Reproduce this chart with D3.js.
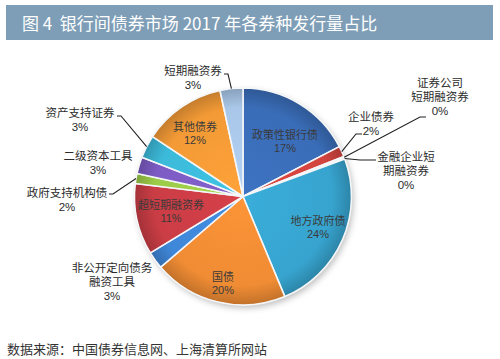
<!DOCTYPE html>
<html><head><meta charset="utf-8">
<script src="https://cdn.jsdelivr.net/npm/d3@7"></script>
<style>
html,body{margin:0;padding:0;background:#fff;}
svg{display:block;font-family:"Noto Sans CJK SC","Noto Sans",sans-serif;}
.lbl{font-family:"Liberation Sans","Noto Sans CJK SC",sans-serif;}
</style></head>
<body>
<svg id="c" width="500" height="359"></svg>
<script>
const title = "图 4\u00a0\u00a0银行间债券市场 2017 年各券种发行量占比";
const source = "数据来源：中国债券信息网、上海清算所网站";
const categories = ["政策性银行债","企业债券","证券公司短期融资券","金融企业短期融资券","地方政府债","国债","非公开定向债务融资工具","超短期融资券","政府支持机构债","二级资本工具","资产支持证券","其他债券","短期融资券"];
const values = [17.4,1.6,0.2,0.2,24.3,20.0,2.6,10.6,1.5,2.5,3.4,12.3,3.4];
const labelLines = [["政策性银行债"],["企业债券"],["证券公司","短期融资券"],["金融企业短","期融资券"],["地方政府债"],["国债"],["非公开定向债务","融资工具"],["超短期融资券"],["政府支持机构债"],["二级资本工具"],["资产支持证券"],["其他债券"],["短期融资券"]];
const colors = ["#3A6DB8","#D2443F","#9BBB59","#8FB8C8","#37A4CF","#F08C34","#3F87D8","#CB3D45","#9CCB48","#7D5CC4","#3CBAD9","#F39A36","#A9C7E8"];

// layout of labels (x center, y center of first line) and leader lines
const labelPos = [
  {x:285,y:135,inside:true},
  {x:371,y:117,end:[362,134],knee:[356,134]},
  {x:440,y:83,end:[426,117],knee:[420,117]},
  {x:406,y:157,end:[376,160],knee:[360,160]},
  {x:318,y:221,inside:true},
  {x:223,y:277,inside:true},
  {x:112,y:268},
  {x:171,y:205,inside:true},
  {x:67,y:193,end:[109,194],knee:[113,194]},
  {x:98,y:156},
  {x:80,y:113,end:[117,116],knee:[121,116]},
  {x:195,y:127,inside:true},
  {x:193,y:71,end:[224,74],knee:[228,74]}
];

const svg = d3.select("#c");
const W=500,H=359;
svg.append("rect").attr("width",W).attr("height",H).attr("fill","#fff");

// title bar
svg.append("rect").attr("x",6).attr("y",5).attr("width",487).attr("height",35).attr("fill","#7E9EB7");
svg.append("text").attr("x",22).attr("y",30).attr("fill","#fff").attr("font-size",17).text(title);

const cx=243, cy=196.5, R=108.5;
const defs = svg.append("defs");
const sh = defs.append("filter").attr("id","sh").attr("x","-20%").attr("y","-20%").attr("width","140%").attr("height","140%");
sh.append("feDropShadow").attr("dx",2).attr("dy",3).attr("stdDeviation",3).attr("flood-color","#000").attr("flood-opacity",0.25);

colors.forEach((c,i)=>{
  const g = defs.append("radialGradient").attr("id","g"+i).attr("gradientUnits","userSpaceOnUse")
    .attr("cx",0).attr("cy",0).attr("r",R);
  const base = d3.color(c);
  g.append("stop").attr("offset","0%").attr("stop-color",base.brighter(0.15));
  g.append("stop").attr("offset","82%").attr("stop-color",base);
  g.append("stop").attr("offset","93%").attr("stop-color",base.darker(0.35));
  g.append("stop").attr("offset","100%").attr("stop-color",base.darker(0.6));
});

const pie = d3.pie().sort(null).value(d=>d);
const arcs = pie(values);
const arc = d3.arc().innerRadius(0).outerRadius(R);
const gp = svg.append("g").attr("transform",`translate(${cx},${cy})`);
gp.append("circle").attr("r",R).attr("fill","#fff").attr("filter","url(#sh)");
gp.selectAll("path.s").data(arcs).join("path").attr("class","s")
  .attr("d",arc).attr("fill",(d,i)=>`url(#g${i})`)
  .attr("stroke","#f4f6f8").attr("stroke-width",1.6).attr("stroke-linejoin","round");

// leader lines
const lg = svg.append("g");
arcs.forEach((a,i)=>{
  const p = labelPos[i];
  if(!p.end) return;
  const m = (a.startAngle+a.endAngle)/2;
  const sx = cx + R*Math.sin(m), sy = cy - R*Math.cos(m);
  lg.append("polyline").attr("points",[[sx,sy],p.knee,p.end].map(q=>q.join(",")).join(" "))
    .attr("fill","none").attr("stroke","#222").attr("stroke-width",1.1);
});

// labels
const tg = svg.append("g").attr("class","lbl").attr("text-anchor","middle");
arcs.forEach((a,i)=>{
  const p = labelPos[i];
  const lines = labelLines[i].concat([Math.round(values[i])+"%"]);
  const lh = p.inside?12.8:14;
  lines.forEach((s,k)=>{
    tg.append("text").attr("font-size",p.inside?11:11.5)
      .attr("fill",p.inside?"#3a3a3a":"#2b2b2b").attr("dominant-baseline","central")
      .attr("x",p.x).attr("y",p.y+k*lh).text(s);
  });
});

svg.append("text").attr("x",7).attr("y",354).attr("font-size",13).attr("fill","#333").text(source);
</script>
</body></html>
